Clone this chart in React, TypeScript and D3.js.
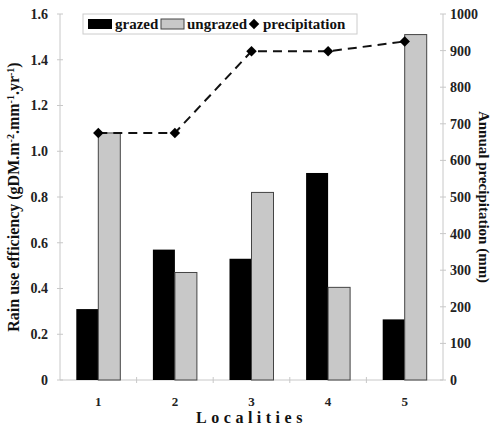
import * as d3 from 'd3';

const localities = ['1', '2', '3', '4', '5'];
const grazed = [0.31, 0.57, 0.53, 0.905, 0.265];
const ungrazed = [1.08, 0.47, 0.82, 0.405, 1.51];
const precipitation = [675, 675, 898, 898, 925];
const leftTicks = [0, 0.2, 0.4, 0.6, 0.8, 1.0, 1.2, 1.4, 1.6];
const rightTicks = [0, 100, 200, 300, 400, 500, 600, 700, 800, 900, 1000];

const tx = { fontFamily: 'Liberation Serif', fontWeight: 'bold' } as const;

export default function App() {
  const width = 497;
  const height = 427;
  const margin = { top: 14, right: 54, bottom: 47, left: 60 };
  const x0 = margin.left;
  const x1 = width - margin.right;
  const yBottom = height - margin.bottom;

  const x = d3.scaleBand().domain(localities).range([x0, x1]);
  const yL = d3.scaleLinear().domain([0, 1.6]).range([yBottom, margin.top]);
  const yR = d3.scaleLinear().domain([0, 1000]).range([yBottom, margin.top]);
  const barW = 22;

  const line = d3.line<number>()
    .x((_, i) => (x(localities[i]) as number) + x.bandwidth() / 2)
    .y(d => yR(d));

  const axisColor = '#c8c8c8';
  const diamond = d3.symbol().type(d3.symbolDiamond2).size(70)() as string;

  return (
    <svg width={width} height={height}
      style={{ position: 'absolute', left: 0, top: 0, background: '#fff' }}>
      {/* axes */}
      <line x1={x0} x2={x0} y1={margin.top} y2={yBottom} stroke={axisColor} />
      <line x1={x1} x2={x1} y1={margin.top} y2={yBottom} stroke={axisColor} />
      <line x1={x0} x2={x1} y1={yBottom} y2={yBottom} stroke={axisColor} />
      {leftTicks.map(t => (
        <g key={'l' + t}>
          <line x1={x0 - 3} x2={x0 + 3} y1={yL(t)} y2={yL(t)} stroke={axisColor} />
          <text x={x0 - 12} y={yL(t)} dy="0.35em" textAnchor="end" fontSize={14} fill="#222" style={tx}>
            {t === 0 ? '0' : t.toFixed(1)}
          </text>
        </g>
      ))}
      {rightTicks.map(t => (
        <g key={'r' + t}>
          <line x1={x1 - 3} x2={x1 + 3} y1={yR(t)} y2={yR(t)} stroke={axisColor} />
          <text x={x1 + 7} y={yR(t)} dy="0.35em" textAnchor="start" fontSize={14} fill="#222" style={tx}>{t}</text>
        </g>
      ))}
      {localities.map((c, i) => (
        <g key={'b' + c}>
          {i > 0 && <line x1={x(c)} x2={x(c)} y1={yBottom - 3} y2={yBottom + 3} stroke={axisColor} />}
          <text x={(x(c) as number) + x.bandwidth() / 2} y={yBottom + 21} dy="0.35em" textAnchor="middle" fontSize={13} fill="#222" style={tx}>{c}</text>
        </g>
      ))}

      {/* bars */}
      {localities.map((c, i) => {
        const cx = (x(c) as number) + x.bandwidth() / 2;
        return (
          <g key={'bar' + c}>
            <rect x={cx - barW} y={yL(grazed[i])} width={barW} height={yBottom - yL(grazed[i])} fill="#000" />
            <rect x={cx} y={yL(ungrazed[i])} width={barW} height={yBottom - yL(ungrazed[i])} fill="#c8c8c8" stroke="#444" strokeWidth={1} />
          </g>
        );
      })}

      {/* precipitation line */}
      <path d={line(precipitation) as string} fill="none" stroke="#111" strokeWidth={2} strokeDasharray="9,6" />
      {precipitation.map((p, i) => (
        <path key={'d' + i} d={diamond}
          transform={`translate(${(x(localities[i]) as number) + x.bandwidth() / 2},${yR(p)})`} fill="#000" />
      ))}

      {/* axis titles */}
      <text transform={`translate(19,${(margin.top + yBottom) / 2}) rotate(-90)`} textAnchor="middle" fontSize={16} fill="#111" style={tx}>
        Rain use efficiency (gDM.m<tspan dy="-5" fontSize={10}>-2</tspan><tspan dy="5">.mm</tspan><tspan dy="-5" fontSize={10}>-1</tspan><tspan dy="5">.yr</tspan><tspan dy="-5" fontSize={10}>-1</tspan><tspan dy="5">)</tspan>
      </text>
      <text transform={`translate(479,${(margin.top + yBottom) / 2}) rotate(90)`} textAnchor="middle" fontSize={15} fill="#111" style={tx}>
        Annual precipitation (mm)
      </text>
      <text x={(x0 + x1) / 2} y={yBottom + 37} dy="0.35em" textAnchor="middle" fontSize={16} letterSpacing={4.5} fill="#111" style={tx}>
        Localities
      </text>

      {/* legend */}
      <g>
        <rect x={83} y={14} width={274} height={20} fill="#fff" stroke="#ccc" />
        <rect x={88} y={19} width={24} height={10} fill="#000" />
        <text x={115} y={24} dy="0.35em" fontSize={15} fill="#111" style={tx}>grazed</text>
        <rect x={161} y={19} width={23} height={10} fill="#c8c8c8" stroke="#444" />
        <text x={187} y={24} dy="0.35em" fontSize={15} fill="#111" style={tx}>ungrazed</text>
        <path d={diamond} transform="translate(254,24)" fill="#000" />
        <text x={263} y={24} dy="0.35em" fontSize={15} fill="#111" style={tx}>precipitation</text>
      </g>
    </svg>
  );
}
